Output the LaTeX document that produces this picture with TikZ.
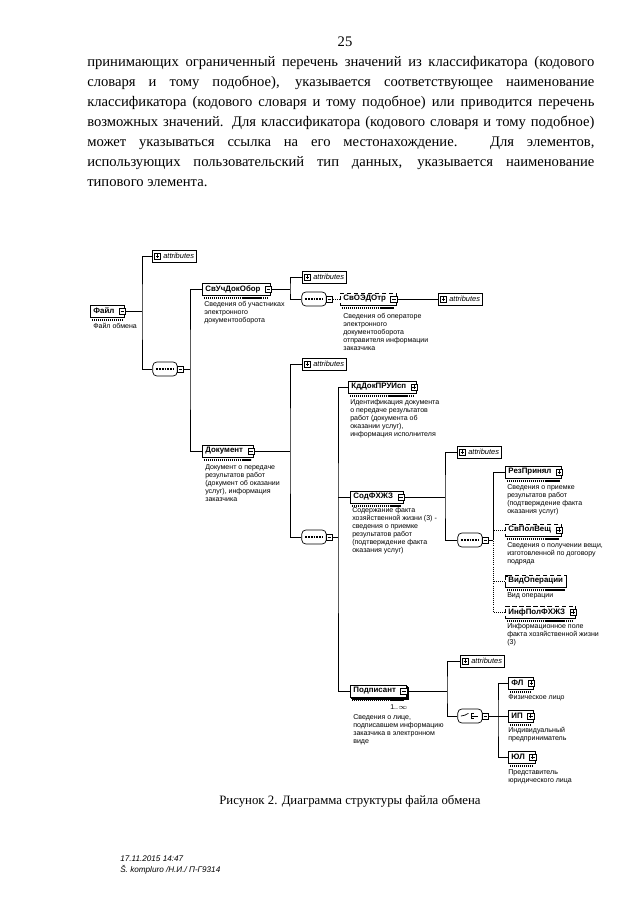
\documentclass[tikz,border=0pt]{standalone}
\usepackage{fontspec}
\setmainfont{Liberation Serif}
\setsansfont{Liberation Sans}
\usetikzlibrary{shadows}

\newcommand{\jline}[1]{\makebox[12.675cm][s]{#1}}

\tikzset{
  elem/.style={draw, fill=white, anchor=west, line width=0.5pt, inner xsep=2.2pt, inner ysep=1pt,
    minimum height=8.5pt, font=\sffamily\bfseries\fontsize{5.6}{6}\selectfont,
    drop shadow={shadow xshift=0.6pt, shadow yshift=-0.6pt, opacity=1, fill=black}},
  optelem/.style={elem, densely dashed},
  multielem/.style={elem, double copy shadow={shadow xshift=1pt, shadow yshift=-1pt}},
  sqbase/.style={draw, solid, fill=white, line width=0.4pt, minimum size=4.4pt, inner sep=0pt},
  minsq/.style={sqbase, path picture={
    \draw[line width=0.4pt] ([xshift=0.9pt]path picture bounding box.west) -- ([xshift=-0.9pt]path picture bounding box.east);}},
  plussq/.style={sqbase, path picture={
    \draw[line width=0.4pt] ([xshift=0.9pt]path picture bounding box.west) -- ([xshift=-0.9pt]path picture bounding box.east);
    \draw[line width=0.4pt] ([yshift=-0.9pt]path picture bounding box.north) -- ([yshift=0.9pt]path picture bounding box.south);}},
  attr/.style={draw, fill=white, anchor=west, line width=0.5pt, inner xsep=1.8pt, inner ysep=1pt,
    minimum height=8.5pt, font=\sffamily\itshape\fontsize{5.3}{6}\selectfont,
    drop shadow={shadow xshift=0.6pt, shadow yshift=-0.6pt, opacity=1, fill=black}},
  compbase/.style={draw, fill=white, rounded corners=3pt, minimum width=17.5pt, minimum height=10pt,
    line width=0.5pt, inner sep=0pt},
  seq/.style={compbase, path picture={
    \draw[line width=0.8pt, dash pattern=on 1.2pt off 0.8pt] ([xshift=2.5pt]path picture bounding box.west) -- ([xshift=-2.5pt]path picture bounding box.east);}},
  choice/.style={compbase, path picture={
    \draw[line width=0.5pt] ([xshift=-6pt]path picture bounding box.center) -- ++(2.5pt,0) -- ++(2.2pt,1.8pt);
    \draw[line width=0.5pt] ([xshift=0.8pt,yshift=-2pt]path picture bounding box.center) -- ++(0,4pt);
    \draw[line width=0.5pt] ([xshift=0.8pt,yshift=-2pt]path picture bounding box.center) -- ++(1.8pt,0);
    \draw[line width=0.5pt] ([xshift=0.8pt]path picture bounding box.center) -- ++(5pt,0);
    \draw[line width=0.5pt] ([xshift=0.8pt,yshift=2pt]path picture bounding box.center) -- ++(1.8pt,0);}},
  desc/.style={anchor=north west, align=left, inner sep=0pt, font=\sffamily\fontsize{5}{5.7}\selectfont},
  card/.style={anchor=north west, inner sep=0pt, font=\sffamily\fontsize{5}{6}\selectfont},
  typebar/.style={line width=1.3pt, dash pattern=on 0.9pt off 0.5pt},
  conn/.style={line width=0.5pt},
  optline/.style={line width=0.5pt, densely dotted},
  bodyline/.style={anchor=base west, inner sep=0pt, font=\fontsize{10.4}{12}\selectfont},
  foot/.style={anchor=base west, inner sep=0pt, font=\sffamily\itshape\fontsize{5.8}{7}\selectfont},
}

\begin{document}
\begin{tikzpicture}[x=0.025cm,y=-0.025cm]
\useasboundingbox (0,0) rectangle (640,905);
\fill[white] (0,0) rectangle (640,905);

% text above the figure
\node[bodyline, anchor=base] (pgnum) at (345,47) {25};
\node[bodyline] (l1) at (87,67) {\jline{принимающих ограниченный перечень значений из классификатора (кодового}};
\node[bodyline] (l2) at (87,87) {\jline{словаря и тому подобное), указывается соответствующее наименование}};
\node[bodyline] (l3) at (87,107) {\jline{классификатора (кодового словаря и тому подобное) или приводится перечень}};
\node[bodyline] (l4) at (87,127) {\jline{возможных значений. Для классификатора (кодового словаря и тому подобное)}};
\node[bodyline] (l5) at (87,147) {\jline{может указываться ссылка на его местонахождение. Для элементов,}};
\node[bodyline] (l6) at (87,167) {\jline{использующих пользовательский тип данных, указывается наименование}};
\node[bodyline] (l7) at (87,187) {типового элемента.};

% elements
\node[elem] (fajl) at (90,311) {Файл\kern5pt};
\node[elem] (svuch) at (202,289) {СвУчДокОбор\kern5pt};
\node[optelem] (svoedo) at (340,299) {СвОЭДОтр\kern5pt};
\node[elem] (dok) at (202,451) {Документ\kern5pt};
\node[elem] (kddok) at (348,387) {КдДокПРУИсп\kern5pt};
\node[elem] (sodfh) at (350,497) {СодФХЖЗ\kern5pt};
\node[multielem] (podp) at (350,691) {Подписант\kern5pt};
\node[elem] (rezpr) at (505,472) {РезПринял\kern5pt};
\node[optelem] (svpol) at (505,530) {СвПолВещ\kern5pt};
\node[optelem] (vidop) at (505,581) {ВидОперации};
\node[optelem] (infpol) at (505,612) {ИнфПолФХЖЗ\kern5pt};
\node[elem] (fl) at (508,683) {ФЛ\kern5pt};
\node[elem] (ip) at (508,716) {ИП\kern5pt};
\node[elem] (yul) at (508,757) {ЮЛ\kern5pt};

\node[minsq] (fajlsq) at ([xshift=-1.8pt]fajl.east) {};
\node[minsq] (svuchsq) at ([xshift=-1.8pt]svuch.east) {};
\node[minsq] (svoedosq) at ([xshift=-1.8pt]svoedo.east) {};
\node[minsq] (doksq) at ([xshift=-1.8pt]dok.east) {};
\node[plussq] (kddoksq) at ([xshift=-1.8pt]kddok.east) {};
\node[minsq] (sodfhsq) at ([xshift=-1.8pt]sodfh.east) {};
\node[minsq] (podpsq) at ([xshift=-1.8pt]podp.east) {};
\node[plussq] (rezprsq) at ([xshift=-1.8pt]rezpr.east) {};
\node[plussq] (svpolsq) at ([xshift=-1.8pt]svpol.east) {};
\node[plussq] (infpolsq) at ([xshift=-1.8pt]infpol.east) {};
\node[plussq] (flsq) at ([xshift=-1.8pt]fl.east) {};
\node[plussq] (ipsq) at ([xshift=-1.8pt]ip.east) {};
\node[plussq] (yulsq) at ([xshift=-1.8pt]yul.east) {};
\fill (vidop.north west) rectangle ++(2.5,2.5);

\foreach \n in {fajl,svuch,svoedo,dok,kddok,sodfh,podp,rezpr,svpol,vidop,infpol,fl,ip,yul}
  \draw[typebar] ([xshift=1.5pt,yshift=-1.8pt]\n.south west) -- ([xshift=-1.5pt,yshift=-1.8pt]\n.south east);

% attributes
\node[attr] (attr1) at (152,256) {\kern6pt attributes};
\node[attr] (attr2) at (302,277) {\kern6pt attributes};
\node[attr] (attr3) at (438,299) {\kern6pt attributes};
\node[attr] (attr4) at (302,364) {\kern6pt attributes};
\node[attr] (attr6) at (457,452) {\kern6pt attributes};
\node[attr] (attr5) at (460,661) {\kern6pt attributes};
\foreach \n in {attr1,attr2,attr3,attr4,attr5,attr6}
  \node[plussq] at ([xshift=4pt]\n.west) {};

% sequences and choice
\node[seq] (seq1) at (165,369) {};
\node[seq] (seq2) at (314,299) {};
\node[seq] (seq3) at (314,537) {};
\node[seq] (seq4) at (470,540) {};
\node[choice] (ch1) at (470,716) {};
\node[minsq, anchor=west] (seq1sq) at ([xshift=-0.5pt]seq1.east) {};
\node[minsq, anchor=west] (seq2sq) at ([xshift=-0.5pt]seq2.east) {};
\node[minsq, anchor=west] (seq3sq) at ([xshift=-0.5pt]seq3.east) {};
\node[minsq, anchor=west] (seq4sq) at ([xshift=-0.5pt]seq4.east) {};
\node[minsq, anchor=west] (ch1sq) at ([xshift=-0.5pt]ch1.east) {};

% descriptions
\node[desc] (d-fajl) at (93,323) {Файл обмена};
\node[desc] (d-svuch) at (204,301) {Сведения об участниках\\электронного\\документооборота};
\node[desc] (d-svoedo) at (343,313) {Сведения об операторе\\электронного\\документооборота\\отправителя информации\\заказчика};
\node[desc] (d-dok) at (205,464) {Документ о передаче\\результатов работ\\(документ об оказании\\услуг), информация\\заказчика};
\node[desc] (d-kddok) at (350,399) {Идентификация документа\\о передаче результатов\\работ (документа об\\оказании услуг),\\информация исполнителя};
\node[desc] (d-sodfh) at (352,507) {Содержание факта\\хозяйственной жизни (3) -\\сведения о приемке\\результатов работ\\(подтверждение факта\\оказания услуг)};
\node[card] (c-podp) at (390,704) {1..$\infty$};
\node[desc] (d-podp) at (353,714) {Сведения о лице,\\подписавшем информацию\\заказчика в электронном\\виде};
\node[desc] (d-rezpr) at (507,484) {Сведения о приемке\\результатов работ\\(подтверждение факта\\оказания услуг)};
\node[desc] (d-svpol) at (507,542) {Сведения о получении вещи,\\изготовленной по договору\\подряда};
\node[desc] (d-vidop) at (507,592) {Вид операции};
\node[desc] (d-infpol) at (507,623) {Информационное поле\\факта хозяйственной жизни\\(3)};
\node[desc] (d-fl) at (508,694) {Физическое лицо};
\node[desc] (d-ip) at (508,727) {Индивидуальный\\предприниматель};
\node[desc] (d-yul) at (508,769) {Представитель\\юридического лица};

% connectors
\coordinate (j1) at (142,311);
\coordinate (j2) at (190,369);
\coordinate (j3) at (290,289);
\coordinate (j4) at (290,451);
\coordinate (j5) at (338,537);
\coordinate (j6) at (445,497);
\coordinate (j7) at (493,540);
\coordinate (j8) at (447,691);
\coordinate (j9) at (498,716);

\draw[conn] (fajlsq.east) -- (j1);
\draw[conn] (attr1.west) -| (j1) |- (seq1.west);
\draw[conn] (seq1sq.east) -- (j2);
\draw[conn] (svuch.west) -| (j2) |- (dok.west);
\draw[conn] (svuchsq.east) -- (j3);
\draw[conn] (attr2.west) -| (j3) |- (seq2.west);
\draw[optline] (seq2sq.east) -- (svoedo.west);
\draw[conn] (svoedosq.east) -- (attr3.west);
\draw[conn] (doksq.east) -- (j4);
\draw[conn] (attr4.west) -| (j4) |- (seq3.west);
\draw[conn] (seq3sq.east) -- (j5);
\draw[conn] (kddok.west) -| (j5) |- (podp.west);
\draw[conn] (sodfh.west) -- (sodfh.west -| j5);
\draw[conn] (sodfhsq.east) -- (j6);
\draw[conn] (attr6.west) -| (j6) |- (seq4.west);
\draw[conn] (seq4sq.east) -- (j7);
\draw[conn] (rezpr.west) -| (j7);
\draw[optline] (svpol.west) -| (j7) |- (infpol.west);
\draw[optline] (vidop.west) -- (vidop.west -| j7);
\draw[conn] (podpsq.east) -- (j8);
\draw[conn] (attr5.west) -| (j8) |- (ch1.west);
\draw[conn] (ch1sq.east) -- (j9);
\draw[conn] (fl.west) -| (j9) |- (yul.west);
\draw[conn] (ip.west) -- (ip.west -| j9);

% caption and footer
\node[bodyline, anchor=base, font=\fontsize{9.1}{11}\selectfont] (cap) at (350,804) {Рисунок 2. Диаграмма структуры файла обмена};
\node[foot] (f1) at (120,861) {17.11.2015 14:47};
\node[foot] (f2) at (120,872) {Š. kompluro /Н.И./ П-Г9314};
\end{tikzpicture}
\end{document}
